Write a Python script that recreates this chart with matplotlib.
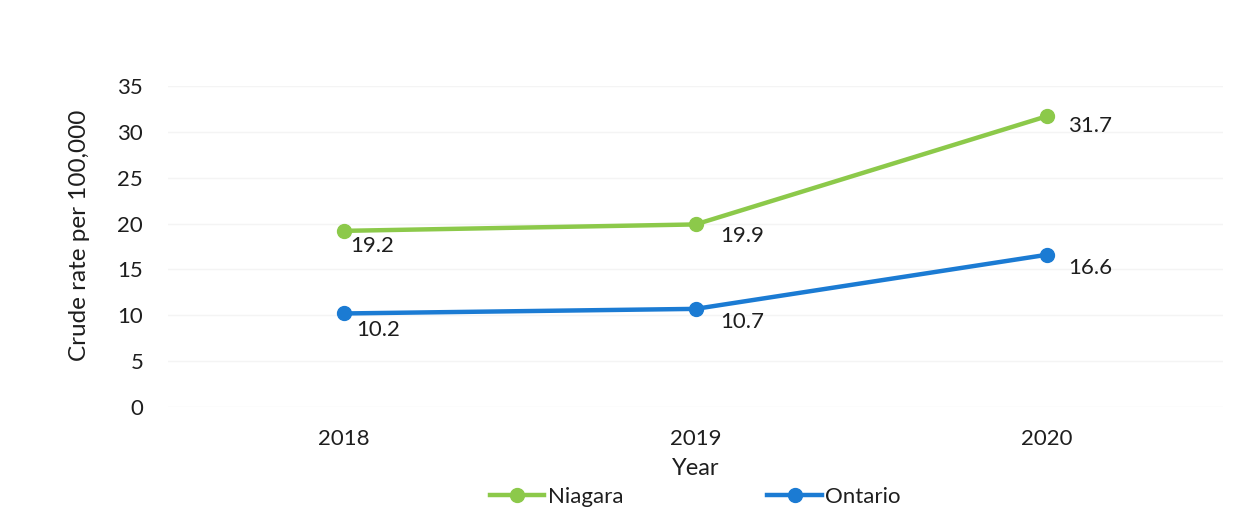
import matplotlib
matplotlib.use("Agg")
import matplotlib.pyplot as plt

years = ["2018", "2019", "2020"]
niagara = [19.2, 19.9, 31.7]
ontario = [10.2, 10.7, 16.6]
series_names = ["Niagara", "Ontario"]
yticks = [0, 5, 10, 15, 20, 25, 30, 35]

plt.rcParams['font.family'] = ['Lato', 'DejaVu Sans']

fig = plt.figure(figsize=(12.46, 5.14), dpi=100)
ax = fig.add_axes([0.135, 0.208, 0.8465, 0.625])

green = '#8CC94A'
blue = '#1B7BD3'
txt = '#1E1E1E'
fs = 16
x = list(range(len(years)))
ax.plot(x, niagara, color=green, lw=3.2, marker='o', ms=10, label=series_names[0], zorder=3)
ax.plot(x, ontario, color=blue, lw=3.2, marker='o', ms=10, label=series_names[1], zorder=3)

# label offsets in pixels (dx, dy upwards)
off_n = [(28, -15), (47, -12), (43, -10)]
off_o = [(34, -17), (47, -13), (43, -13)]
for xi, v, o in zip(x, niagara, off_n):
    ax.annotate(f"{v:.1f}", (xi, v), xytext=o, textcoords='offset pixels',
                ha='center', va='center', fontsize=fs, color=txt)
for xi, v, o in zip(x, ontario, off_o):
    ax.annotate(f"{v:.1f}", (xi, v), xytext=o, textcoords='offset pixels',
                ha='center', va='center', fontsize=fs, color=txt)

ax.set_xlim(-0.5, 2.5)
ax.set_ylim(0, 35)
ax.set_yticks(yticks)
ax.set_xticks(x)
ax.set_xticklabels(years)
ax.tick_params(axis='both', length=0, labelsize=fs, colors=txt)
ax.tick_params(axis='y', pad=18)
ax.tick_params(axis='x', pad=16)
for s in ax.spines.values():
    s.set_visible(False)
ax.grid(axis='y', color='#F4F4F4', lw=1)
ax.set_axisbelow(True)

ax.set_ylabel("Crude rate per 100,000", fontsize=17.5, color=txt)
ax.yaxis.set_label_coords(-0.074, 0.535)
ax.set_xlabel("Year", fontsize=17, color=txt, labelpad=6)

leg = fig.legend(loc='center', bbox_to_anchor=(0.558, 0.033), ncol=2, frameon=False,
                 fontsize=fs, handlelength=2.45, handletextpad=0.15, columnspacing=6.5)
for t in leg.get_texts():
    t.set_color(txt)

fig.savefig("out.png", dpi=100)
